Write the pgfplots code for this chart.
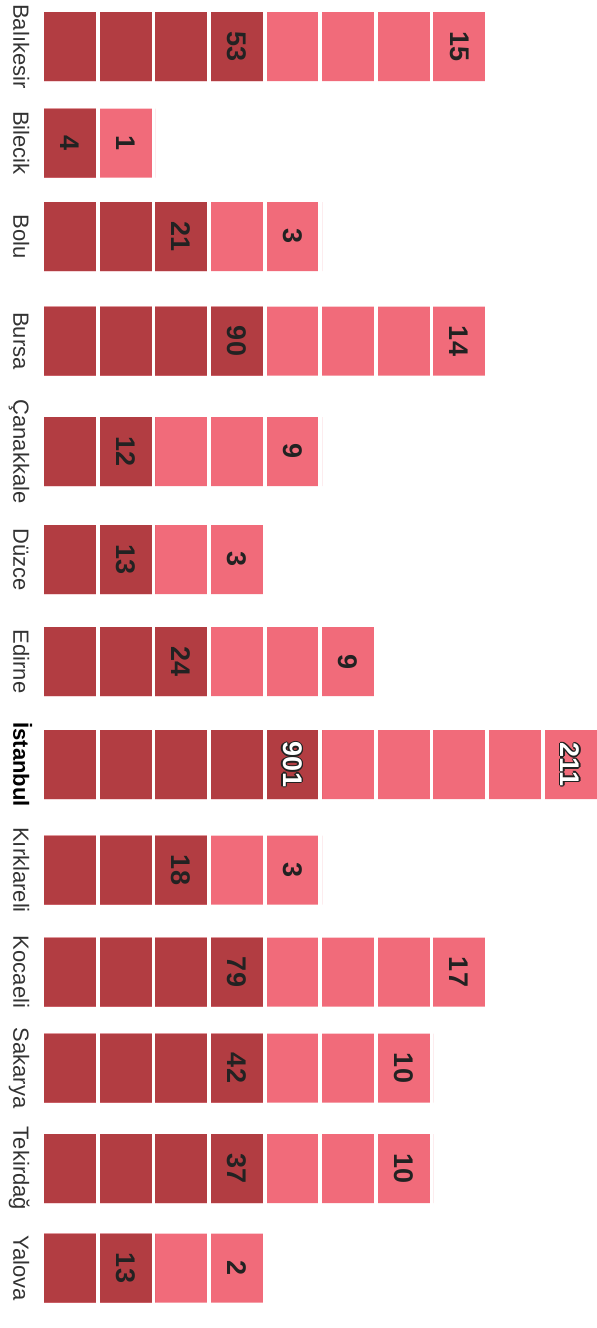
\documentclass[border=0pt]{standalone}
\usepackage{pgfplots}
\pgfplotsset{compat=1.18}
\usepackage{pgfplotstable}
\usepackage{fontspec}
\setmainfont{Liberation Sans}

\definecolor{darkred}{HTML}{B23D42}
\definecolor{pinkred}{HTML}{F16B7A}
\definecolor{labelgray}{HTML}{333333}
\definecolor{numgray}{HTML}{222222}

% row centre (px from top), dark squares, all squares
\pgfplotstableread{
y      dark total
46.5   4    8
143    1    2
236.5  3    5
341    4    8
451.5  2    5
559.5  2    4
661.5  3    6
764.5  5    10
870    3    5
972    4    8
1068   4    7
1168.5 4    7
1268   2    4
}\squares

% x in square units: 1 unit = 55.6pt, square i covers [i-1, i-1+0.935]
\newcommand\rowlabel[2]{\node[rotate=-90, anchor=base, inner sep=0pt,
  font=\fontsize{22}{22}\selectfont, text=labelgray] at (axis cs:-0.55,#1) {#2};}
\newcommand\num[3]{\node[rotate=-90, anchor=center, inner sep=0pt,
  font=\fontsize{27}{27}\selectfont\bfseries, text=numgray] at (axis cs:#1-0.5324,#2) {#3};}
\newcommand\onum[3]{%
  \node[xshift=1.3pt, rotate=-90, inner sep=0pt, font=\fontsize{27}{27}\selectfont\bfseries, text=numgray] at (axis cs:#1-0.5324,#2) {#3};
  \node[xshift=-1.3pt, rotate=-90, inner sep=0pt, font=\fontsize{27}{27}\selectfont\bfseries, text=numgray] at (axis cs:#1-0.5324,#2) {#3};
  \node[yshift=1.3pt, rotate=-90, inner sep=0pt, font=\fontsize{27}{27}\selectfont\bfseries, text=numgray] at (axis cs:#1-0.5324,#2) {#3};
  \node[yshift=-1.3pt, rotate=-90, inner sep=0pt, font=\fontsize{27}{27}\selectfont\bfseries, text=numgray] at (axis cs:#1-0.5324,#2) {#3};
  \node[xshift=0.9pt, yshift=0.9pt, rotate=-90, inner sep=0pt, font=\fontsize{27}{27}\selectfont\bfseries, text=numgray] at (axis cs:#1-0.5324,#2) {#3};
  \node[xshift=-0.9pt, yshift=0.9pt, rotate=-90, inner sep=0pt, font=\fontsize{27}{27}\selectfont\bfseries, text=numgray] at (axis cs:#1-0.5324,#2) {#3};
  \node[xshift=0.9pt, yshift=-0.9pt, rotate=-90, inner sep=0pt, font=\fontsize{27}{27}\selectfont\bfseries, text=numgray] at (axis cs:#1-0.5324,#2) {#3};
  \node[xshift=-0.9pt, yshift=-0.9pt, rotate=-90, inner sep=0pt, font=\fontsize{27}{27}\selectfont\bfseries, text=numgray] at (axis cs:#1-0.5324,#2) {#3};
  \node[rotate=-90, inner sep=0pt, font=\fontsize{27}{27}\selectfont\bfseries, text=white] at (axis cs:#1-0.5324,#2) {#3};}

\begin{document}
\begin{tikzpicture}
\useasboundingbox (0,0) rectangle (597pt,1328pt);
\begin{axis}[
    at={(0,0)}, anchor=south west,
    scale only axis,
    width=597pt, height=1328pt,
    xmin=-0.79137, xmax=9.946,
    ymin=0, ymax=1328,
    y dir=reverse,
    axis line style={draw=none},
    major tick length=0pt,
    ytick=\empty,
    xtick={0.971,1.971,2.971,3.971,4.971,5.971,6.971,7.971,8.971,9.971},
    xticklabels={},
    xmajorgrids,
    major grid style={white, line width=3.8pt},
    axis on top,
    clip=false,
]
  \addplot[xbar, bar width=69, bar shift=0pt, fill=pinkred, draw=none] table[x=total, y=y] {\squares};
  \addplot[xbar, bar width=69, bar shift=0pt, fill=darkred, draw=none] table[x=dark, y=y] {\squares};

  \rowlabel{46.5}{Balıkesir}
  \rowlabel{143}{Bilecik}
  \rowlabel{236.5}{Bolu}
  \rowlabel{341}{Bursa}
  \rowlabel{451.5}{Çanakkale}
  \rowlabel{559.5}{Düzce}
  \rowlabel{661.5}{Edirne}
  \node[rotate=-90, anchor=base, inner sep=0pt,
    font=\fontsize{22}{22}\selectfont\bfseries, text=black] at (axis cs:-0.55,764.5) {İstanbul};
  \rowlabel{870}{Kırklareli}
  \rowlabel{972}{Kocaeli}
  \rowlabel{1068}{Sakarya}
  \rowlabel{1168.5}{Tekirdağ}
  \rowlabel{1268}{Yalova}

  \num{4}{46.5}{53}   \num{8}{46.5}{15}
  \num{1}{143}{4}     \num{2}{143}{1}
  \num{3}{236.5}{21}  \num{5}{236.5}{3}
  \num{4}{341}{90}    \num{8}{341}{14}
  \num{2}{451.5}{12}  \num{5}{451.5}{9}
  \num{2}{559.5}{13}  \num{4}{559.5}{3}
  \num{3}{661.5}{24}  \num{6}{661.5}{9}
  \onum{5}{764.5}{901} \onum{10}{764.5}{211}
  \num{3}{870}{18}    \num{5}{870}{3}
  \num{4}{972}{79}    \num{8}{972}{17}
  \num{4}{1068}{42}   \num{7}{1068}{10}
  \num{4}{1168.5}{37} \num{7}{1168.5}{10}
  \num{2}{1268}{13}   \num{4}{1268}{2}
\end{axis}
\end{tikzpicture}
\end{document}
